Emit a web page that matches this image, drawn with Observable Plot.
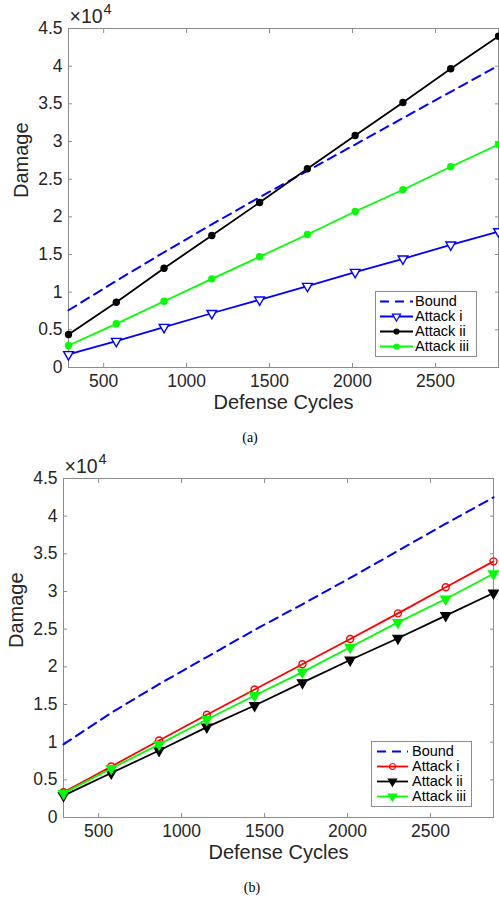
<!DOCTYPE html>
<html><head><meta charset="utf-8">
<script src="https://cdn.jsdelivr.net/npm/d3@7"></script>
<script src="https://cdn.jsdelivr.net/npm/@observablehq/plot@0.6"></script>
<style>
html,body{margin:0;padding:0;background:#fff}
body{width:499px;height:901px;position:relative;overflow:hidden;font-family:"Liberation Sans",Arial,sans-serif}
.panel{position:absolute;left:0}
.legend{position:absolute;background:#fff;border:1px solid #8c8c8c;box-sizing:border-box;padding-top:2px}
.row{position:relative;height:15px;line-height:15px;font-size:14.5px;color:#000;white-space:nowrap}
.row svg{position:absolute;top:0;left:0}
.row span{position:absolute;top:0}
.caption{position:absolute;font-family:"Liberation Serif","Times New Roman",serif;font-size:14px;color:#000;transform:translate(-50%,-50%)}
</style>
</head><body>
<div id="pa" class="panel" style="top:0"></div>
<div id="pb" class="panel" style="top:450px"></div>
<div class="caption" style="left:250px;top:438px">(a)</div>
<div class="caption" style="left:252px;top:888px">(b)</div>
<script>
// ---- data ----
const defenseCycles = [288, 576, 864, 1152, 1440, 1728, 2016, 2304, 2592, 2880];
// panel (a)
const boundA     = [7600, 11500, 15300, 19000, 22600, 26100, 29600, 33100, 36600, 40100];
const attackIA   = [1730, 3500, 5350, 7200, 8990, 10800, 12650, 14430, 16290, 18050];
const attackIIA  = [4380, 8670, 13180, 17520, 21900, 26380, 30800, 35180, 39650, 43980];
const attackIIIA = [2920, 5800, 8800, 11770, 14700, 17650, 20700, 23600, 26640, 29600];
// panel (b)
const boundB     = [9700, 13900, 17700, 21300, 24900, 28300, 31800, 35400, 39000, 42500];
const attackIB   = [3360, 6770, 10220, 13630, 17000, 20350, 23700, 27100, 30570, 34000];
const attackIIB  = [2900, 5900, 8900, 12000, 14870, 17900, 20900, 23800, 26800, 29800];
const attackIIIB = [3200, 6500, 9700, 13000, 16200, 19300, 22600, 25900, 29000, 32350];
// ticks
const xTicks = [500, 1000, 1500, 2000, 2500];
const xTickLabels = ["500", "1000", "1500", "2000", "2500"];
const yTicks = [0, 5000, 10000, 15000, 20000, 25000, 30000, 35000, 40000, 45000];
const yTickLabels = ["0", "0.5", "1", "1.5", "2", "2.5", "3", "3.5", "4", "4.5"];
const seriesNames = ["Bound", "Attack i", "Attack ii", "Attack iii"];
const xLabel = "Defense Cycles";
const yLabel = "Damage";
const exponentBase = "\u00d710";
const exponent = "4";

const FRAME = "#8c8c8c", TEXT = "#262626";

function rows(vals) { return defenseCycles.map((x, i) => ({x, y: vals[i]})); }

function panel(cfg) {
  const {bound, series, mL, mR, mT, mB, H} = cfg;
  const marks = [
    Plot.frame({stroke: FRAME, strokeWidth: 1}),
    Plot.axisX(xTicks, {anchor: "bottom", tickSize: -4, fill: "none", stroke: FRAME, label: null}),
    Plot.axisX(xTicks, {anchor: "top", tickSize: -4, fill: "none", stroke: FRAME, label: null}),
    Plot.axisX(xTicks, {anchor: "bottom", tickSize: 0, tickPadding: 7, fill: TEXT, label: null, fontSize: 17.5,
      tickFormat: d => xTickLabels[xTicks.indexOf(d)]}),
    Plot.axisY(yTicks, {anchor: "left", tickSize: -4, fill: "none", stroke: FRAME, label: null}),
    Plot.axisY(yTicks, {anchor: "right", tickSize: -4, fill: "none", stroke: FRAME, label: null}),
    Plot.axisY(yTicks, {anchor: "left", tickSize: 0, tickPadding: 6, fill: TEXT, label: null, fontSize: 17.5,
      tickFormat: d => yTickLabels[yTicks.indexOf(d)]}),
    Plot.line(rows(bound), {x: "x", y: "y", stroke: "#0000ff", strokeWidth: 2, strokeDasharray: "9,6"})
  ];
  for (const s of series) {
    marks.push(Plot.line(rows(s.vals), {x: "x", y: "y", stroke: s.color, strokeWidth: 1.8}));
    marks.push(Plot.dot(rows(s.vals), {x: "x", y: "y", symbol: s.symbol, rotate: s.rotate || 0, r: s.r,
      fill: s.fill, stroke: s.color, strokeWidth: 1.4}));
  }
  marks.push(
    Plot.text([xLabel], {frameAnchor: "bottom", dy: 27, lineAnchor: "top", fontSize: 20, fill: TEXT}),
    Plot.text([yLabel], {frameAnchor: "left", dx: -47, rotate: -90, lineAnchor: "middle", fontSize: 20, fill: TEXT}),
    Plot.text([exponentBase], {frameAnchor: "top-left", dx: 1, dy: -19, textAnchor: "start", lineAnchor: "top", fontSize: 19.5, fill: TEXT}),
    Plot.text([exponent], {frameAnchor: "top-left", dx: 35, dy: -25, textAnchor: "start", lineAnchor: "top", fontSize: 14.5, fill: TEXT})
  );
  return Plot.plot({
    width: 499, height: H,
    marginLeft: mL, marginRight: mR, marginTop: mT, marginBottom: mB,
    x: {domain: [288, 2880]},
    y: {domain: [0, 45000]},
    style: {fontFamily: '"Liberation Sans", Arial, sans-serif', background: "white", overflow: "visible"},
    marks
  });
}

function legend(parent, left, top, w, lineX0, lineX1, textX, items) {
  const div = document.createElement("div");
  div.className = "legend";
  div.style.left = left + "px"; div.style.top = top + "px";
  div.style.width = w + "px"; div.style.height = "66px";
  for (const it of items) {
    const row = document.createElement("div");
    row.className = "row";
    const svg = d3.create("svg").attr("width", textX).attr("height", 15);
    svg.append("line").attr("x1", lineX0).attr("x2", lineX1).attr("y1", 7.5).attr("y2", 7.5)
      .attr("stroke", it.color).attr("stroke-width", it.dash ? 2 : 1.8)
      .attr("stroke-dasharray", it.dash ? "9,6" : null);
    if (it.symbol) {
      const sym = d3.symbol(it.symbol === "circle" ? d3.symbolCircle : d3.symbolTriangle, Math.PI * it.r * it.r)();
      svg.append("path").attr("d", sym)
        .attr("transform", `translate(${(lineX0 + lineX1) / 2},7.5) rotate(${it.rotate || 0})`)
        .attr("fill", it.fill).attr("stroke", it.color).attr("stroke-width", 1.2);
    }
    row.appendChild(svg.node());
    const sp = document.createElement("span");
    sp.style.left = textX + "px";
    sp.textContent = it.name;
    row.appendChild(sp);
    div.appendChild(row);
  }
  parent.appendChild(div);
}

// panel (a)
const seriesA = [
  {vals: attackIA, color: "#0000ff", symbol: "triangle", rotate: 180, r: 3.6, fill: "white"},
  {vals: attackIIA, color: "#000000", symbol: "circle", r: 3, fill: "#000000"},
  {vals: attackIIIA, color: "#00ff00", symbol: "circle", r: 3, fill: "#00ff00"}
];
document.getElementById("pa").appendChild(panel({bound: boundA, series: seriesA, mL: 68, mR: 1, mT: 28, mB: 58, H: 425}));

// panel (b)
const seriesB = [
  {vals: attackIB, color: "#ff0000", symbol: "circle", r: 3.5, fill: "none"},
  {vals: attackIIB, color: "#000000", symbol: "triangle", rotate: 180, r: 3.6, fill: "#000000"},
  {vals: attackIIIB, color: "#00ff00", symbol: "triangle", rotate: 180, r: 3.6, fill: "#00ff00"}
];
document.getElementById("pb").appendChild(panel({bound: boundB, series: seriesB, mL: 63, mR: 6, mT: 28, mB: 53, H: 420}));

const body = document.body;
legend(body, 375, 291, 102, 4, 37, 39, [
  {name: seriesNames[0], color: "#0000ff", dash: true},
  {name: seriesNames[1], color: "#0000ff", symbol: "triangle", rotate: 180, r: 3, fill: "white"},
  {name: seriesNames[2], color: "#000000", symbol: "circle", r: 2.5, fill: "#000000"},
  {name: seriesNames[3], color: "#00ff00", symbol: "circle", r: 2.5, fill: "#00ff00"}
]);
legend(body, 371, 741, 101, 5, 36, 40, [
  {name: seriesNames[0], color: "#0000ff", dash: true},
  {name: seriesNames[1], color: "#ff0000", symbol: "circle", r: 3, fill: "none"},
  {name: seriesNames[2], color: "#000000", symbol: "triangle", rotate: 180, r: 3, fill: "#000000"},
  {name: seriesNames[3], color: "#00ff00", symbol: "triangle", rotate: 180, r: 3, fill: "#00ff00"}
]);
</script>
</body></html>
